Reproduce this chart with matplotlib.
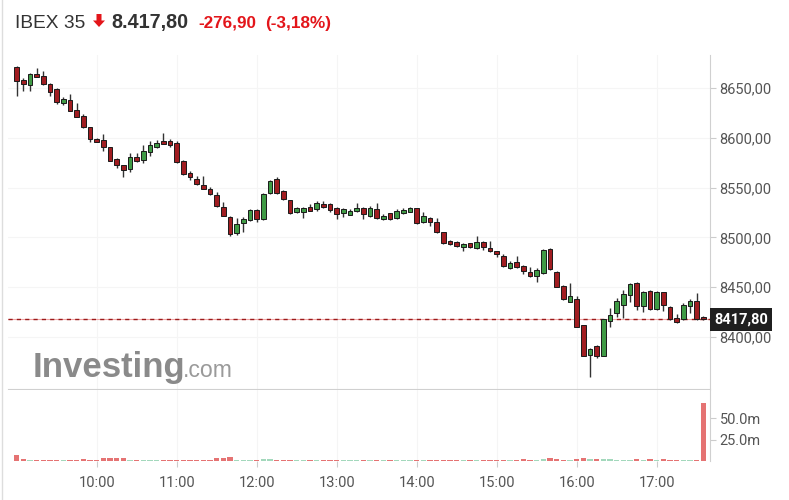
import numpy as np
import matplotlib
matplotlib.use("Agg")
import matplotlib.pyplot as plt
from matplotlib.patches import Polygon
from matplotlib.lines import Line2D
import matplotlib.transforms as mtransforms

# 5-minute candles, 9:00 -> 17:35
opens = [8670.8, 8658.0, 8653.3, 8664.0, 8662.0, 8654.0, 8649.0, 8634.6, 8638.0, 8628.0,
         8621.9, 8610.5, 8598.8, 8597.8, 8590.5, 8579.0, 8572.4, 8568.7, 8580.4, 8578.0,
         8585.7, 8590.5, 8596.8, 8596.8, 8595.1, 8576.7, 8564.4, 8558.6, 8552.6, 8548.6,
         8542.6, 8530.8, 8520.8, 8504.1, 8514.5, 8517.5, 8527.5, 8518.2, 8544.3, 8558.6,
         8546.6, 8537.6, 8525.8, 8525.2, 8530.2, 8528.2, 8533.5, 8533.5, 8529.8, 8524.2,
         8522.8, 8526.5, 8529.8, 8521.5, 8528.2, 8518.2, 8524.2, 8519.2, 8524.2, 8525.8,
         8529.2, 8515.2, 8519.8, 8515.2, 8505.1, 8496.4, 8495.7, 8490.1, 8494.1, 8489.0,
         8495.1, 8489.7, 8486.4, 8481.3, 8469.0, 8475.6, 8471.3, 8465.0, 8461.6, 8464.0,
         8488.4, 8465.0, 8451.5, 8435.5, 8438.2, 8412.0, 8382.3, 8391.3, 8381.2, 8416.1,
         8423.8, 8432.1, 8442.2, 8454.5, 8431.4, 8446.2, 8428.1, 8444.9, 8430.4, 8418.8,
         8417.8, 8431.4, 8436.1, 8420.3]
highs = [8672.0, 8659.7, 8665.0, 8669.8, 8667.0, 8654.5, 8650.0, 8640.7, 8643.7, 8634.6,
         8623.6, 8610.8, 8599.3, 8603.5, 8590.8, 8579.7, 8572.7, 8584.5, 8585.0, 8592.8,
         8597.1, 8597.8, 8604.5, 8598.5, 8596.8, 8577.2, 8566.7, 8561.7, 8561.7, 8551.0,
         8545.9, 8535.8, 8521.5, 8519.8, 8520.0, 8528.2, 8528.2, 8544.3, 8557.6, 8560.3,
         8547.6, 8538.0, 8530.2, 8530.2, 8533.2, 8536.5, 8536.5, 8534.8, 8530.2, 8529.2,
         8528.2, 8534.2, 8530.8, 8531.5, 8534.2, 8523.2, 8524.5, 8528.5, 8529.2, 8530.8,
         8530.0, 8525.2, 8520.8, 8519.2, 8505.5, 8497.0, 8496.4, 8494.1, 8494.4, 8501.7,
         8496.4, 8496.4, 8486.8, 8483.0, 8476.3, 8481.3, 8472.0, 8470.0, 8469.6, 8488.0,
         8489.0, 8466.3, 8452.2, 8454.5, 8441.2, 8412.3, 8389.0, 8392.0, 8418.5, 8429.4,
         8438.8, 8447.2, 8454.5, 8455.5, 8446.2, 8447.2, 8446.2, 8445.5, 8431.1, 8422.8,
         8433.8, 8437.8, 8444.5, 8420.8]
lows = [8642.0, 8647.3, 8647.0, 8660.8, 8653.0, 8642.0, 8634.0, 8633.0, 8627.0, 8620.6,
        8610.1, 8596.1, 8595.8, 8587.0, 8576.7, 8569.4, 8561.0, 8566.0, 8576.0, 8574.4,
        8582.0, 8589.5, 8593.5, 8591.0, 8575.0, 8563.0, 8558.0, 8552.6, 8548.3, 8542.3,
        8530.8, 8521.5, 8501.7, 8502.4, 8505.7, 8516.8, 8515.8, 8517.5, 8543.6, 8543.6,
        8537.6, 8523.5, 8524.2, 8519.8, 8526.5, 8526.8, 8529.8, 8525.5, 8518.2, 8520.8,
        8522.2, 8525.5, 8518.2, 8520.8, 8518.2, 8517.5, 8517.8, 8518.5, 8523.5, 8525.2,
        8513.5, 8514.2, 8511.5, 8504.1, 8493.1, 8492.4, 8490.7, 8486.7, 8489.3, 8488.4,
        8487.4, 8485.6, 8480.6, 8470.6, 8468.0, 8469.0, 8463.0, 8460.6, 8455.0, 8463.0,
        8467.0, 8449.9, 8437.2, 8434.9, 8409.7, 8380.5, 8360.2, 8379.2, 8380.5, 8410.3,
        8419.8, 8419.4, 8435.5, 8427.1, 8425.4, 8427.1, 8427.1, 8425.8, 8417.1, 8414.4,
        8417.1, 8423.8, 8417.1, 8417.0]
closes = [8657.3, 8653.7, 8664.0, 8661.3, 8654.0, 8646.0, 8636.0, 8639.0, 8627.2, 8621.2,
          8611.1, 8598.5, 8596.1, 8590.5, 8577.0, 8573.0, 8567.7, 8581.0, 8576.7, 8586.7,
          8592.5, 8595.1, 8593.8, 8593.1, 8575.7, 8563.7, 8560.3, 8553.3, 8548.6, 8543.3,
          8531.8, 8521.8, 8503.1, 8513.5, 8518.9, 8527.5, 8518.5, 8543.6, 8556.9, 8544.9,
          8538.3, 8524.2, 8529.2, 8529.2, 8526.8, 8534.8, 8530.2, 8527.5, 8523.2, 8528.2,
          8526.8, 8529.8, 8523.2, 8529.2, 8519.8, 8521.5, 8518.2, 8526.5, 8527.5, 8529.2,
          8514.2, 8521.5, 8515.2, 8505.1, 8494.7, 8493.1, 8491.7, 8493.4, 8490.1, 8495.1,
          8490.7, 8486.4, 8483.0, 8471.3, 8474.6, 8470.0, 8466.6, 8461.6, 8467.3, 8487.4,
          8468.0, 8450.5, 8437.9, 8441.2, 8410.3, 8381.2, 8388.3, 8381.2, 8417.8, 8422.1,
          8436.1, 8443.2, 8453.2, 8431.1, 8444.9, 8428.1, 8444.9, 8432.1, 8417.8, 8415.4,
          8432.1, 8436.4, 8417.8, 8417.8]
# volume in millions
volumes = [6.5, 2.5, 1.0, 1.0, 1.0, 1.0, 1.0, 1.0, 1.0, 1.0,
           2.5, 1.0, 1.0, 3.0, 3.0, 3.0, 3.0, 1.5, 1.0, 1.0,
           1.5, 1.0, 1.0, 1.0, 1.0, 1.0, 1.0, 1.0, 1.0, 1.0,
           3.0, 3.0, 4.5, 1.0, 1.0, 1.0, 1.0, 2.0, 2.0, 1.0,
           1.0, 1.0, 1.0, 1.0, 1.0, 1.0, 1.0, 1.0, 1.0, 1.0,
           1.0, 1.0, 1.0, 1.0, 1.0, 1.0, 1.0, 1.0, 1.0, 1.0,
           1.0, 1.0, 1.0, 1.0, 1.0, 1.0, 1.0, 1.0, 1.0, 1.0,
           1.0, 1.0, 1.0, 1.0, 1.5, 1.0, 2.0, 1.0, 1.5, 2.0,
           3.5, 2.5, 1.0, 1.0, 2.0, 3.0, 2.5, 2.0, 2.0, 2.0,
           1.5, 1.5, 1.0, 2.0, 1.0, 2.0, 1.0, 2.0, 1.0, 1.0,
           1.5, 1.5, 1.0, 68.0]

time_labels = ["10:00", "11:00", "12:00", "13:00", "14:00", "15:00", "16:00", "17:00"]
price_ticks = [8400, 8450, 8500, 8550, 8600, 8650]
vol_ticks = [25, 50]
last_price = 8417.80

W, H = 789, 500
fig = plt.figure(figsize=(W / 100, H / 100), dpi=100)
plt.rcParams['font.family'] = ['Roboto', 'DejaVu Sans']

def box(l, t, r, b):
    return [l / W, 1 - b / H, (r - l) / W, (b - t) / H]

ax = fig.add_axes(box(8, 55, 710, 389))
axv = fig.add_axes(box(8, 390, 710, 461), sharex=ax)

o = np.array(opens); c = np.array(closes)
hi = np.array(highs); lo = np.array(lows)
x = np.arange(len(o))
up = c >= o

# candles
ax.vlines(x, lo, hi, color='#333333', lw=1, zorder=2)
body_h = np.where(np.abs(c - o) < 1.0, 1.0, c - o)
ax.bar(x, body_h, bottom=o, width=0.68,
       color=np.where(up, '#3f9a45', '#a11d21'),
       edgecolor='#1a1a1a', linewidth=0.7, zorder=3)

# last price line
ax.axhline(last_price, color='#f2a5a5', lw=0.8, zorder=1)
ax.axhline(last_price, color='#9b1b1b', lw=1.0, ls=(0, (3, 3)), zorder=1)

ax.set_xlim(-1.3, 104.0)
ax.set_ylim(8347.8, 8683.1)
ax.set_yticks(price_ticks)
ax.set_yticklabels([f"{p:.2f}".replace('.', ',') for p in price_ticks])
ax.yaxis.tick_right()
ax.tick_params(axis='y', length=4, color='#cccccc', labelcolor='#555555',
               labelsize=10.5, pad=3)
ax.tick_params(axis='x', bottom=False, labelbottom=False)
for s in ['top', 'left']:
    ax.spines[s].set_visible(False)
ax.spines['right'].set_color('#d0d0d0')
ax.spines['bottom'].set_color('#d0d0d0')
hour_idx = [12 * (k + 1) for k in range(len(time_labels))]
ax.set_xticks(hour_idx)
ax.grid(True, color='#f5f5f5', lw=0.8, zorder=0)
ax.set_axisbelow(True)

# price label box
trans = mtransforms.blended_transform_factory(ax.transAxes, ax.transData)
ax.text(1.006, last_price, "8417,80", transform=trans, ha='left', va='center',
        color='white', fontsize=10.5, fontweight='bold', zorder=5, clip_on=False,
        bbox=dict(boxstyle='square,pad=0.3', fc='#1f1f1f', ec='none'))

# watermark
fig.text(33 / W, 1 - 377 / H, "Investing", family='Liberation Sans',
         fontweight='bold', fontsize=25, color='#8a8a8a', va='baseline')
fig.text(183 / W, 1 - 377 / H, ".com", family='Liberation Sans',
         fontsize=16.6, color='#9a9a9a', va='baseline')

# volume
axv.bar(x, volumes, width=0.8, color=np.where(up, '#a3d8bc', '#e57373'), zorder=2)
axv.set_ylim(0, 82.6)
axv.set_yticks(vol_ticks)
axv.set_yticklabels([f"{v:.1f}m" for v in vol_ticks])
axv.yaxis.tick_right()
axv.tick_params(axis='y', length=4, color='#cccccc', labelcolor='#555555',
                labelsize=10.5, pad=3)
axv.set_xticks(hour_idx)
axv.set_xticklabels(time_labels)
axv.tick_params(axis='x', length=4, color='#cccccc', labelcolor='#555555',
                labelsize=10.5, pad=7)
for s in ['top', 'left', 'bottom']:
    axv.spines[s].set_visible(False)
axv.spines['right'].set_color('#d0d0d0')
axv.grid(True, axis='x', color='#f5f5f5', lw=0.8, zorder=0)
axv.set_axisbelow(True)

# header
fig.text(15 / W, 1 - 28 / H, "IBEX 35", family='Liberation Sans', fontsize=13.8,
         color='#333333', va='baseline')
arrow = Polygon([(96.5, 14), (101.5, 14), (101.5, 20.5), (105, 20.5), (99, 27),
                 (93, 20.5), (96.5, 20.5)], closed=True, fc='#e3151a', ec='none')
arrow.set_transform(mtransforms.Affine2D().scale(1 / W, -1 / H).translate(0, 1) + fig.transFigure)
fig.patches.append(arrow)
fig.text(111 / W, 1 - 28 / H, "8.417,80", family='Liberation Sans', fontsize=14.2,
         fontweight='bold', color='#333333', va='baseline')
fig.text(198 / W, 1 - 28 / H, "-276,90", family='Liberation Sans', fontsize=12.3,
         fontweight='bold', color='#e3151a', va='baseline')
fig.text(265 / W, 1 - 28 / H, "(-3,18%)", family='Liberation Sans', fontsize=12.3,
         fontweight='bold', color='#e3151a', va='baseline')

# left frame line
fig.add_artist(Line2D([1.5 / W, 1.5 / W], [0, 1], color='#dddddd', lw=1,
                      transform=fig.transFigure))

fig.savefig("out.png", dpi=100)
